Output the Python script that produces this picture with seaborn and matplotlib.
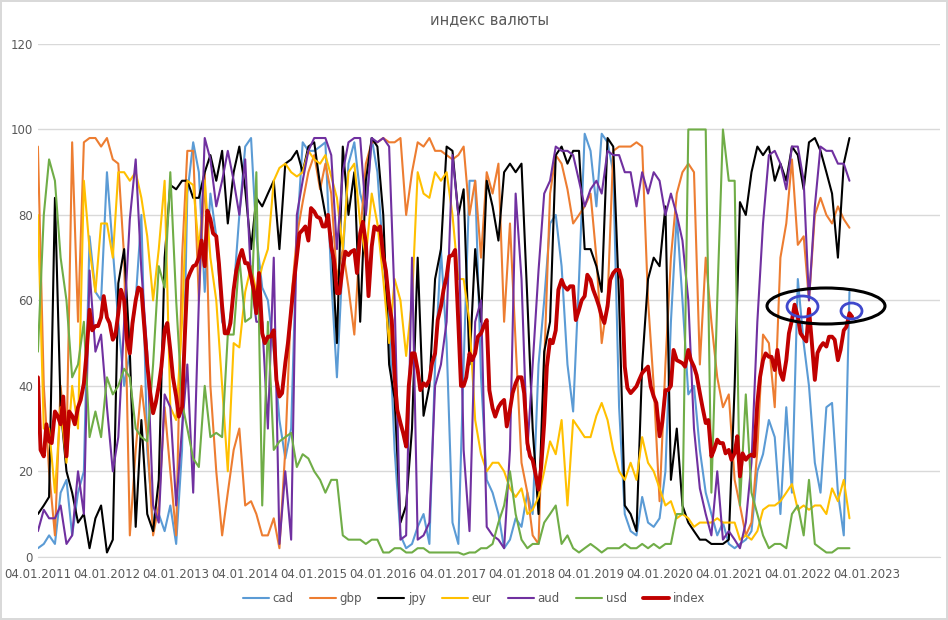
import numpy as np
import pandas as pd

import matplotlib
matplotlib.use("Agg")
import matplotlib.pyplot as plt
from matplotlib.patches import Ellipse
import seaborn as sns

# monthly readings, Jan 2011 .. Oct 2022
dates = pd.date_range("2011-01-01", periods=142, freq="MS") + pd.Timedelta(days=3)
# the index line is read twice a month
dates_half = pd.date_range("2011-01-01", periods=284, freq="SMS") + pd.Timedelta(days=3)

cad = [2, 3, 5, 3, 15, 18, 5, 15, 20, 75, 62, 60, 90, 72, 55, 40, 48, 60, 80, 25, 8, 10, 6, 12,
       3, 25, 85, 97, 90, 62, 85, 75, 55, 52, 62, 80, 96, 98, 75, 63, 60, 48, 32, 23, 30, 75, 97, 95,
       95, 96, 97, 65, 42, 70, 92, 97, 85, 80, 98, 90, 70, 55, 25, 5, 2, 3, 7, 10, 3, 45, 72, 50,
       8, 3, 45, 88, 88, 42, 18, 15, 10, 2, 4, 9, 7, 15, 10, 45, 60, 78, 80, 68, 45, 34, 65, 99,
       95, 82, 99, 97, 90, 35, 10, 6, 5, 14, 8, 7, 9, 20, 55, 80, 60, 38, 40, 25, 15, 10, 5, 8,
       3, 2, 3, 4, 6, 20, 24, 32, 28, 10, 35, 15, 65, 50, 40, 22, 15, 35, 36, 15, 5, 62]

gbp = [96, 40, 20, 5, 40, 25, 97, 55, 97, 98, 98, 96, 98, 93, 92, 70, 5, 25, 40, 28, 5, 12, 35, 20,
       5, 70, 95, 95, 60, 90, 40, 20, 5, 15, 25, 30, 12, 13, 10, 5, 5, 9, 2, 25, 60, 75, 83, 90,
       94, 86, 92, 85, 65, 72, 63, 52, 75, 92, 97, 97, 98, 97, 97, 98, 80, 90, 97, 96, 98, 95, 95, 94,
       93, 94, 96, 80, 88, 70, 90, 85, 92, 55, 78, 50, 22, 15, 5, 3, 45, 85, 94, 92, 86, 78, 80, 82,
       85, 70, 50, 60, 95, 96, 96, 96, 97, 96, 60, 40, 13, 45, 70, 85, 90, 92, 90, 45, 70, 55, 42, 35,
       38, 18, 12, 5, 8, 25, 52, 50, 35, 70, 78, 93, 73, 75, 60, 80, 84, 80, 78, 82, 79, 77]

jpy = [10, 12, 14, 84, 35, 20, 15, 8, 10, 2, 9, 12, 1, 4, 64, 72, 48, 7, 32, 10, 6, 18, 70, 87,
       86, 88, 88, 84, 84, 90, 94, 88, 95, 78, 90, 96, 86, 72, 84, 82, 85, 88, 72, 92, 93, 95, 90, 96,
       97, 87, 80, 75, 50, 96, 80, 90, 55, 88, 98, 96, 80, 45, 37, 8, 12, 30, 70, 33, 40, 65, 72, 96,
       95, 80, 86, 45, 72, 55, 88, 82, 74, 90, 92, 90, 92, 60, 30, 10, 48, 55, 94, 96, 92, 95, 95, 72,
       72, 68, 62, 98, 96, 60, 12, 10, 6, 45, 65, 70, 68, 82, 18, 30, 12, 8, 6, 4, 4, 3, 3, 3,
       4, 40, 83, 80, 90, 96, 94, 96, 88, 92, 88, 96, 94, 86, 97, 98, 95, 90, 85, 70, 92, 98]

eur = [80, 30, 30, 15, 35, 22, 40, 30, 88, 72, 62, 78, 78, 70, 90, 90, 88, 90, 84, 75, 60, 72, 88, 35,
       32, 55, 88, 87, 72, 88, 70, 60, 40, 20, 50, 49, 62, 68, 62, 68, 72, 88, 91, 92, 90, 89, 90, 95,
       93, 92, 94, 89, 84, 72, 90, 92, 78, 70, 85, 78, 65, 50, 65, 60, 47, 60, 90, 85, 84, 90, 88, 90,
       80, 65, 65, 55, 32, 24, 20, 22, 22, 20, 16, 14, 16, 10, 11, 14, 20, 27, 24, 32, 12, 32, 30, 28,
       28, 33, 36, 32, 25, 20, 18, 22, 18, 28, 22, 20, 16, 12, 13, 9, 10, 9, 7, 8, 8, 8, 9, 8,
       8, 8, 4, 5, 4, 6, 11, 12, 12, 13, 15, 17, 11, 12, 11, 12, 12, 10, 16, 13, 18, 9]

aud = [6, 11, 9, 9, 12, 3, 5, 20, 10, 67, 48, 52, 35, 20, 28, 55, 79, 93, 67, 48, 12, 8, 38, 35,
       12, 30, 45, 15, 60, 98, 93, 82, 88, 95, 88, 80, 93, 65, 55, 55, 30, 70, 3, 20, 4, 80, 88, 95,
       98, 98, 98, 94, 72, 90, 97, 98, 98, 80, 98, 97, 98, 96, 60, 4, 5, 70, 4, 5, 8, 40, 45, 55,
       94, 80, 25, 6, 55, 60, 7, 5, 4, 2, 25, 85, 65, 25, 45, 67, 85, 88, 96, 95, 95, 94, 88, 82,
       86, 88, 85, 95, 94, 94, 90, 90, 82, 90, 85, 90, 88, 80, 85, 80, 74, 60, 30, 16, 10, 5, 20, 4,
       6, 4, 2, 8, 22, 55, 78, 94, 95, 92, 86, 96, 96, 88, 60, 82, 96, 95, 95, 92, 92, 88]

usd = [48, 80, 93, 88, 70, 60, 42, 45, 55, 28, 34, 28, 42, 38, 40, 44, 42, 30, 28, 27, 45, 68, 63, 90,
       60, 36, 30, 23, 21, 40, 28, 29, 28, 52, 52, 70, 55, 56, 90, 12, 55, 25, 27, 28, 29, 21, 24, 23,
       20, 18, 15, 18, 18, 5, 4, 4, 4, 3, 4, 4, 1, 1, 2, 2, 1, 1, 2, 2, 1, 1, 1, 1,
       1, 1, 0.5, 1, 1, 2, 2, 3, 8, 12, 20, 10, 4, 2, 3, 3, 8, 10, 12, 3, 5, 2, 1, 2,
       3, 2, 1, 2, 2, 2, 3, 2, 2, 3, 2, 3, 2, 3, 3, 10, 10, 100, 100, 100, 100, 15, 60, 100,
       88, 88, 12, 38, 15, 10, 5, 2, 3, 3, 2, 10, 12, 5, 18, 3, 2, 1, 1, 2, 2, 2]

index = [42, 25, 23.5, 31, 27, 26.6, 34, 33, 31, 37.5, 23.5, 34, 33, 31, 35, 36.7, 40.6, 47.6, 57.8, 53, 54, 54, 56, 61,
         56, 54.7, 50.8, 52, 57, 62.5, 60, 50.8, 47.6, 54.7, 60, 63, 62.5, 54.7, 45, 39, 33.6, 36, 40, 44.5, 53, 54.7, 48.4, 42,
         37.5, 32.8, 35, 50.8, 64.8, 66.4, 68, 68.3, 70, 74, 68, 81, 79, 75.7, 75, 68.7, 58.6, 52.3, 52.3, 54.7, 62.5, 67, 70, 71.8,
         68.7, 68.7, 65.6, 62.5, 57, 66.4, 52.3, 50, 51.5, 51.5, 53, 41.4, 37.5, 38.3, 45.3, 50, 57.8, 64, 70.3, 75.7, 76.5, 77.3, 74, 81.6,
         80.8, 79.6, 79.2, 77.3, 77.3, 80, 72.6, 69.5, 61.7, 61.7, 68, 71.4, 70.6, 71.4, 71.8, 66.4, 75.7, 78.4, 73.4, 61, 72.6, 77.3, 76.5, 77.3,
         70.3, 67, 59.3, 55.4, 42, 34.4, 31.3, 29, 25.8, 40, 47.6, 47.6, 43.7, 39, 40.6, 40, 41.4, 45.3, 47.6, 55.4, 58.6, 62.5, 65.6, 70.3,
         70.6, 71.8, 54.7, 40, 40, 42, 47.6, 46, 47.6, 51.5, 52.3, 53.9, 55.4, 39, 34.8, 32.8, 35, 36, 36.7, 30.5, 34.4, 38.3, 40.6, 42,
         42, 38.3, 26.6, 23.5, 22.6, 19.6, 15.7, 21, 31.3, 44.5, 50.8, 50, 53, 62.5, 64.8, 63.3, 62.5, 63.3, 63.3, 55.4, 57.8, 60, 61, 66,
         64.8, 62.5, 60.5, 58.6, 56.2, 54.7, 58.6, 64.8, 66.4, 67.1, 67.1, 64.8, 44.5, 39.5, 38.3, 39, 39.9, 41.4, 43, 43.7, 44.5, 39.9, 37.5, 36,
         28.2, 31.3, 39, 39, 40, 48.4, 46, 45.7, 45.3, 44.5, 48.4, 46, 44.5, 42.5, 38.3, 35, 31.3, 32, 23.5, 25, 27.4, 26.6, 26.6, 24.2,
         25, 22.7, 24.2, 28.2, 18.8, 24.2, 22.7, 23.5, 23.9, 23.5, 36, 42, 46, 47.6, 46.8, 46.8, 43.7, 48.4, 43, 41.4, 46, 52.3, 55.4, 59,
         56.2, 52.3, 51.2, 50.4, 58, 50.8, 41.4, 47.7, 49.2, 50, 49.2, 51.5, 51.5, 50.8, 46, 48.4, 53, 53.8, 57, 56.2]

series_names = ["cad", "gbp", "jpy", "eur", "aud", "usd"]
series_values = [cad, gbp, jpy, eur, aud, usd]
colors = ["#5B9BD5", "#ED7D31", "#000000", "#FFC000", "#7030A0", "#70AD47"]
index_color = "#C00000"

tick_years = list(range(2011, 2024))
tick_labels = [f"04.01.{y}" for y in tick_years]

sns.set_style("white")
plt.rcParams["font.family"] = ["DejaVu Sans"]

df = pd.DataFrame({"date": dates})
for name, vals in zip(series_names, series_values):
    df[name] = vals
df_index = pd.DataFrame({"date": dates_half, "index": index})

fig = plt.figure(figsize=(9.48, 6.2), dpi=100)
ax = fig.add_axes([0.040, 0.102, 0.952, 0.827])

for name, col in zip(series_names, colors):
    sns.lineplot(data=df, x="date", y=name, color=col, linewidth=1.5, ax=ax, label=name)
sns.lineplot(data=df_index, x="date", y="index", color=index_color, linewidth=2.8, ax=ax, label="index")

ax.set_xlim(pd.Timestamp("2011-01-04"), pd.Timestamp("2024-01-28"))
ax.set_ylim(0, 120)
ax.set_yticks(range(0, 121, 20))
ax.set_xticks(pd.to_datetime([f"{y}-01-04" for y in tick_years]))
ax.set_xticklabels(tick_labels)
ax.tick_params(axis="both", labelsize=8.5, colors="#595959", length=0)
ax.tick_params(axis="x", length=4, color="#d9d9d9", pad=4)
ax.grid(axis="y", color="#d9d9d9", linewidth=1)
ax.set_xlabel("")
ax.set_ylabel("")
for s in ["left", "right", "top"]:
    ax.spines[s].set_visible(False)
ax.spines["bottom"].set_color("#d9d9d9")

ax.set_title("индекс валюты", fontsize=10.5, color="#595959", pad=14)

ax.legend_.remove()
handles, labels = ax.get_legend_handles_labels()
fig.legend(handles, labels, loc="center", bbox_to_anchor=(0.5, 0.035), ncol=7,
           frameon=False, fontsize=8.5, handlelength=2.2, columnspacing=1.4,
           labelcolor="#595959", handletextpad=0.3)

# hand-drawn markers on the picture
W, H = 948, 620
fig.patches.append(Ellipse((826 / W, 1 - 306 / H), 118 / W, 36 / H, transform=fig.transFigure,
                           fill=False, edgecolor="black", linewidth=2.2))
fig.patches.append(Ellipse((802.5 / W, 1 - 306.5 / H), 31 / W, 21 / H, transform=fig.transFigure,
                           fill=False, edgecolor="#3F48CC", linewidth=2))
fig.patches.append(Ellipse((851.5 / W, 1 - 311 / H), 21 / W, 16 / H, transform=fig.transFigure,
                           fill=False, edgecolor="#3F48CC", linewidth=2))

fig.patch.set_edgecolor("#d9d9d9")
fig.patch.set_linewidth(1.5)

fig.savefig("out.png", dpi=100)
